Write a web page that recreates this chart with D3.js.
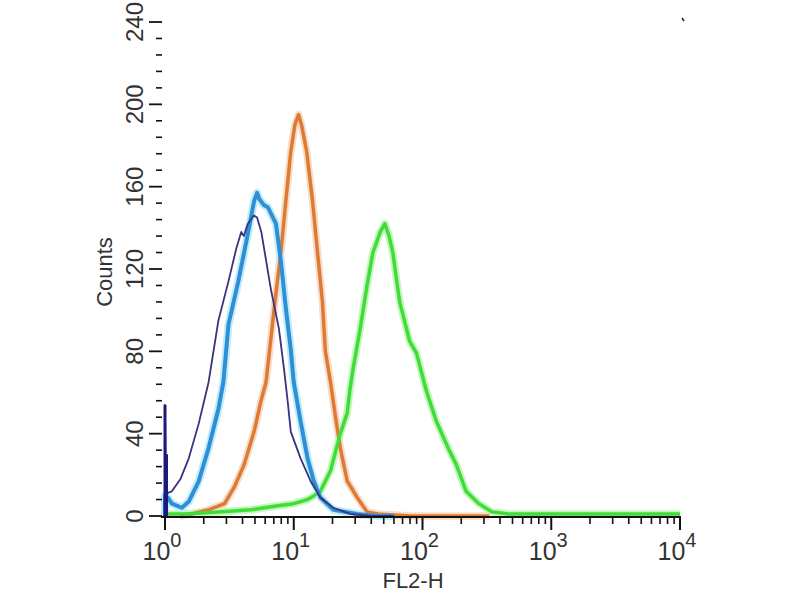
<!DOCTYPE html>
<html>
<head>
<meta charset="utf-8">
<script src="https://cdn.jsdelivr.net/npm/d3@7"></script>
<style>
  html, body { margin: 0; padding: 0; background: #fff; }
  svg { display: block; }
  text { font-family: "Liberation Sans", Arial, sans-serif; fill: #333; }
</style>
</head>
<body>
<svg id="chart" width="800" height="600"></svg>
<script>
// ---- data (FL2-H value, count) ----
const isotypeDark = [
  [1,0],[1,54],[1.01,30],[1.03,11],[1.13,12],[1.32,18],[1.53,28],[1.83,45],[2.18,65],
  [2.6,95],[3.11,114],[3.58,130],[3.91,138],[4.1,136],[4.4,142],[4.9,146],[5.19,145],
  [5.6,138],[5.88,130],[6.65,110],[7.67,91],[8.38,72],[9.0,55],[9.48,41],[11.3,28],
  [13.5,17],[16.1,9],[20.3,4],[27.4,1],[40,0],[60,0]
];
const controlBlue = [
  [1,0],[1,10],[1.05,9],[1.13,6],[1.35,4],[1.53,7],[1.83,17],[2.18,33],[2.6,52],[2.84,65],
  [3.11,93],[3.71,114],[4.43,138],[4.92,153],[5.19,157],[5.4,154],[5.88,151],[6.3,150],
  [7.27,142],[7.94,124],[8.68,101],[9.48,81],[10.0,65],[11.3,46],[12.8,28],[14.3,17],
  [16.1,9],[20.3,3],[31.1,1],[45,0],[60,0]
];
const sampleOrange = [
  [1.3,0],[1.61,1],[2.18,3],[2.9,6],[3.45,14],[4.12,25],[4.92,41],[5.57,56],[6.09,65],
  [7.14,104],[7.94,128],[8.68,153],[9.48,177],[10.2,190],[10.9,195],[11.5,190],[12.6,177],
  [14.0,153],[15.3,128],[16.7,104],[17.6,80],[19.3,65],[21.0,49],[23.0,33],[26.0,17],
  [31.1,9],[37.1,2],[45,1],[80,0],[330,0]
];
const sampleGreen = [
  [1,1],[1.43,1],[2.6,2],[4.67,3],[7.53,5],[10,6],[12.8,8],[14.5,10],[16.1,12],[19.3,22],
  [23,40],[26,50],[27.4,62],[29,72],[32.8,91],[37.1,112],[41.2,128],[47,138],[51,142],
  [55,136],[58.8,128],[66.5,104],[79.4,85],[89.9,79],[107,61],[128,46],[161,32],[183,25],
  [218,12],[274,6],[345,2],[467,1],[1000,1],[3000,1],[10000,1]
];
const xMajorTicks = [1, 10, 100, 1000, 10000];
const xTickExponents = ["0", "1", "2", "3", "4"];
const yMajorTicks = [0, 40, 80, 120, 160, 200, 240];
const xLabel = "FL2-H";
const yLabel = "Counts";

// ---- layout ----
const svg = d3.select("#chart");
const x = d3.scaleLog().domain([1, 10000]).range([165, 680]);
const y = d3.scaleLinear().domain([0, 240]).range([516, 22]);

const line = d3.line().x(d => x(d[0])).y(d => y(d[1]));

// halos (jpeg glow)
const series = [
  {data: sampleOrange, color: "#de7a33", halo: "#f7dcc8", w: 3.5},
  {data: sampleGreen, color: "#40dd38", halo: "#c4f6bd", w: 3.5},
  {data: controlBlue, color: "#2f8fd6", halo: "#c2ecfa", w: 4},
  {data: isotypeDark, color: "#3a3282", halo: null, w: 1.8}
];
series.forEach(s => {
  if (s.halo) {
    svg.append("path").attr("d", line(s.data)).attr("fill", "none")
      .attr("stroke", s.halo).attr("stroke-width", s.w + 4).attr("stroke-linejoin", "round");
  }
});
series.forEach(s => {
  svg.append("path").attr("d", line(s.data)).attr("fill", "none")
    .attr("stroke", s.color).attr("stroke-width", s.w).attr("stroke-linejoin", "round");
});
// dark first-bin spike
svg.append("line")
  .attr("x1", x(isotypeDark[1][0]) ).attr("x2", x(isotypeDark[1][0]))
  .attr("y1", y(0)).attr("y2", y(isotypeDark[1][1]))
  .attr("stroke", "#1c1a7a").attr("stroke-width", 3);
svg.append("line")
  .attr("x1", x(isotypeDark[1][0]) + 1.5).attr("x2", x(isotypeDark[1][0]) + 1.5)
  .attr("y1", y(0)).attr("y2", y(isotypeDark[2][1]))
  .attr("stroke", "#1c1a7a").attr("stroke-width", 3);

// ---- x axis ----
const xAxisY = 517;
svg.append("line").attr("x1", x(1) - 4).attr("x2", x(10000) + 1)
  .attr("y1", xAxisY).attr("y2", xAxisY).attr("stroke", "#111").attr("stroke-width", 2);
const minorX = [];
for (let d = 1; d < 10000; d *= 10) for (let k = 2; k <= 9; k++) minorX.push(d * k);
svg.selectAll(".xminor").data(minorX).enter().append("line")
  .attr("x1", d => x(d)).attr("x2", d => x(d))
  .attr("y1", xAxisY).attr("y2", xAxisY + 7)
  .attr("stroke", "#111").attr("stroke-width", 1.6);
svg.selectAll(".xmajor").data(xMajorTicks).enter().append("line")
  .attr("x1", d => x(d)).attr("x2", d => x(d))
  .attr("y1", xAxisY).attr("y2", xAxisY + 13)
  .attr("stroke", "#111").attr("stroke-width", 2);
const xl = svg.selectAll(".xlab").data(xMajorTicks).enter().append("text")
  .attr("x", d => x(d) - 3).attr("y", 560)
  .attr("text-anchor", "middle").style("font-size", "25px");
xl.append("tspan").text("10");
xl.append("tspan").attr("dy", -13).style("font-size", "20px").text((d, i) => xTickExponents[i]);
svg.append("text").attr("x", 413).attr("y", 588).attr("text-anchor", "middle")
  .style("font-size", "22px").text(xLabel);

// ---- y axis ----
const minorY = d3.range(0, 241, 8).filter(v => v % 40 !== 0);
svg.selectAll(".yminor").data(minorY).enter().append("line")
  .attr("x1", 156).attr("x2", 162).attr("y1", d => y(d)).attr("y2", d => y(d))
  .attr("stroke", "#111").attr("stroke-width", 1.6);
svg.selectAll(".ymajor").data(yMajorTicks).enter().append("line")
  .attr("x1", 149).attr("x2", 162).attr("y1", d => y(d)).attr("y2", d => y(d))
  .attr("stroke", "#111").attr("stroke-width", 1.8);
svg.selectAll(".ylab").data(yMajorTicks).enter().append("text")
  .attr("transform", d => `translate(143,${y(d)}) rotate(-90)`)
  .attr("text-anchor", "middle").style("font-size", "24px").text(d => d);
svg.append("text").attr("transform", `translate(112,272) rotate(-90)`)
  .attr("text-anchor", "middle").style("font-size", "22px").text(yLabel);
// small corner mark top right
svg.append("line").attr("x1", x(10000) + 2).attr("y1", y(240) - 4)
  .attr("x2", x(10000) + 4).attr("y2", y(240) - 1)
  .attr("stroke", "#222").attr("stroke-width", 1.5);
</script>
</body>
</html>
